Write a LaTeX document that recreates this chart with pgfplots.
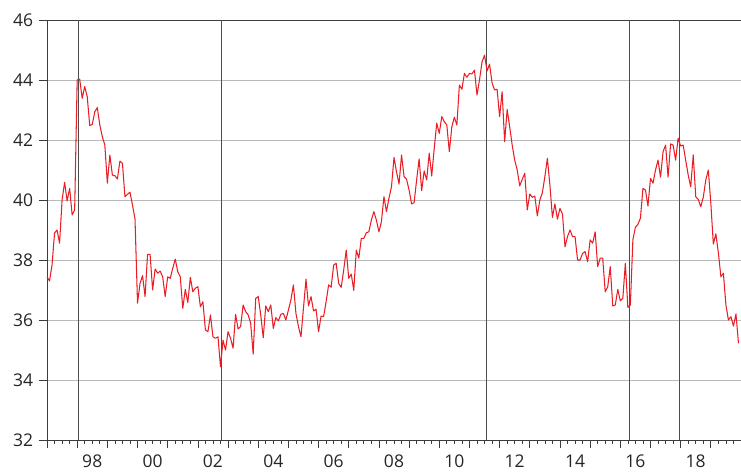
\documentclass[border=0pt]{standalone}
\usepackage{pgfplots}
\pgfplotsset{compat=1.18}
\usepackage{fontspec}
\setmainfont{Open Sans}
\definecolor{seriesred}{RGB}{235,28,36}
\definecolor{gridgray}{RGB}{185,185,185}
\definecolor{axisgray}{RGB}{60,60,60}
\begin{document}
\begin{tikzpicture}
\begin{axis}[
  name=ax,
  scale only axis,
  width=694bp, height=420bp,
  xmin=0, xmax=276,
  ymin=32, ymax=46,
  ytick={32,34,...,46},
  xtick={0,12,...,276},
  xticklabels={,98,,00,,02,,04,,06,,08,,10,,12,,14,,16,,18,,},
  minor xtick={0,3,...,276},
  tick align=outside,
  xtick pos=bottom, ytick pos=left,
  major tick length=8.3bp,
  minor tick length=4bp,
  tick style={axisgray, line width=0.7bp},
  ymajorgrids,
  grid style={gridgray, line width=0.9bp},
  axis line style={axisgray, line width=0.8bp},
  /pgf/number format/assume math mode=true,
  ticklabel style={font=\fontsize{17.5bp}{20bp}\selectfont, text=black!85},
  xticklabel style={xshift=15.08bp, yshift=-3bp},
  yticklabel style={xshift=-2bp},
  clip=false,
]
\addplot[black!70, line width=0.8bp] coordinates {(12.4,32) (12.4,46)};
\addplot[black!70, line width=0.8bp] coordinates {(69.2,32) (69.2,46)};
\addplot[black!70, line width=0.8bp] coordinates {(174.6,32) (174.6,46)};
\addplot[black!70, line width=0.8bp] coordinates {(231.6,32) (231.6,46)};
\addplot[black!70, line width=0.8bp] coordinates {(251.6,32) (251.6,46)};
\addplot[seriesred, line width=1.05bp, line join=round] table[row sep=\\] {
x y\\
0 37.44\\ 1 37.30\\ 2 37.83\\ 3 38.90\\ 4 39.00\\ 5 38.56\\ 6 40.00\\ 7 40.59\\ 8 39.97\\ 9 40.39\\ 10 39.50\\ 11 39.67\\
12 44.00\\ 13 44.03\\ 14 43.39\\ 15 43.78\\ 16 43.44\\ 17 42.48\\ 18 42.52\\ 19 42.94\\ 20 43.08\\ 21 42.50\\ 22 42.11\\ 23 41.83\\
24 40.56\\ 25 41.50\\ 26 40.83\\ 27 40.81\\ 28 40.70\\ 29 41.30\\ 30 41.22\\ 31 40.11\\ 32 40.19\\ 33 40.26\\ 34 39.83\\ 35 39.37\\
36 36.56\\ 37 37.22\\ 38 37.48\\ 39 36.78\\ 40 38.19\\ 41 38.19\\ 42 37.00\\ 43 37.70\\ 44 37.56\\ 45 37.63\\ 46 37.44\\ 47 36.78\\
48 37.44\\ 49 37.39\\ 50 37.72\\ 51 38.03\\ 52 37.61\\ 53 37.44\\ 54 36.39\\ 55 37.02\\ 56 36.58\\ 57 37.42\\ 58 36.94\\ 59 37.06\\
60 37.11\\ 61 36.44\\ 62 36.61\\ 63 35.67\\ 64 35.61\\ 65 36.17\\ 66 35.44\\ 67 35.39\\ 68 35.44\\ 69 34.44\\ 70 35.33\\ 71 35.00\\
72 35.61\\ 73 35.39\\ 74 35.06\\ 75 36.19\\ 76 35.70\\ 77 35.78\\ 78 36.50\\ 79 36.28\\ 80 36.17\\ 81 35.89\\ 82 34.86\\ 83 36.72\\
84 36.78\\ 85 36.17\\ 86 35.41\\ 87 36.47\\ 88 36.28\\ 89 36.50\\ 90 35.72\\ 91 36.08\\ 92 35.97\\ 93 36.19\\ 94 36.22\\ 95 36.00\\
96 36.33\\ 97 36.67\\ 98 37.17\\ 99 36.22\\ 100 35.78\\ 101 35.44\\ 102 36.40\\ 103 37.36\\ 104 36.47\\ 105 36.78\\ 106 36.30\\ 107 36.36\\
108 35.61\\ 109 36.13\\ 110 36.11\\ 111 36.61\\ 112 37.17\\ 113 37.09\\ 114 37.83\\ 115 37.89\\ 116 37.22\\ 117 37.09\\ 118 37.67\\ 119 38.33\\
120 37.39\\ 121 37.53\\ 122 36.99\\ 123 38.33\\ 124 38.06\\ 125 38.72\\ 126 38.72\\ 127 38.91\\ 128 38.94\\ 129 39.33\\ 130 39.61\\ 131 39.33\\
132 38.94\\ 133 39.28\\ 134 40.11\\ 135 39.61\\ 136 40.06\\ 137 40.44\\ 138 41.42\\ 139 40.94\\ 140 40.53\\ 141 41.50\\ 142 40.78\\ 143 40.69\\
144 40.33\\ 145 39.87\\ 146 39.91\\ 147 40.67\\ 148 41.37\\ 149 40.31\\ 150 40.97\\ 151 40.67\\ 152 41.56\\ 153 40.80\\ 154 41.72\\ 155 42.56\\
156 42.22\\ 157 42.78\\ 158 42.61\\ 159 42.50\\ 160 41.61\\ 161 42.44\\ 162 42.76\\ 163 42.50\\ 164 43.83\\ 165 43.69\\ 166 44.22\\ 167 44.09\\
168 44.22\\ 169 44.20\\ 170 44.33\\ 171 43.50\\ 172 44.00\\ 173 44.60\\ 174 44.83\\ 175 44.30\\ 176 44.53\\ 177 43.90\\ 178 43.67\\ 179 43.69\\
180 42.78\\ 181 43.61\\ 182 41.94\\ 183 43.02\\ 184 42.44\\ 185 41.83\\ 186 41.33\\ 187 41.00\\ 188 40.47\\ 189 40.69\\ 190 40.89\\ 191 39.67\\
192 40.20\\ 193 40.09\\ 194 40.13\\ 195 39.47\\ 196 40.00\\ 197 40.24\\ 198 40.78\\ 199 41.39\\ 200 40.50\\ 201 39.42\\ 202 39.87\\ 203 39.36\\
204 39.72\\ 205 39.53\\ 206 38.44\\ 207 38.78\\ 208 39.00\\ 209 38.78\\ 210 38.78\\ 211 38.00\\ 212 38.00\\ 213 38.22\\ 214 38.28\\ 215 37.94\\
216 38.67\\ 217 38.56\\ 218 38.94\\ 219 37.78\\ 220 38.06\\ 221 38.06\\ 222 36.94\\ 223 37.11\\ 224 37.78\\ 225 36.47\\ 226 36.50\\ 227 37.02\\
228 36.64\\ 229 36.72\\ 230 37.89\\ 231 36.42\\ 232 36.50\\ 233 38.67\\ 234 39.09\\ 235 39.19\\ 236 39.39\\ 237 40.39\\ 238 40.33\\ 239 39.80\\
240 40.72\\ 241 40.56\\ 242 41.00\\ 243 41.33\\ 244 40.76\\ 245 41.61\\ 246 41.83\\ 247 40.76\\ 248 41.87\\ 249 41.83\\ 250 41.33\\ 251 42.06\\
252 41.80\\ 253 41.83\\ 254 41.33\\ 255 40.83\\ 256 40.44\\ 257 41.50\\ 258 40.11\\ 259 40.02\\ 260 39.78\\ 261 40.09\\ 262 40.67\\ 263 41.00\\
264 39.89\\ 265 38.53\\ 266 38.87\\ 267 38.24\\ 268 37.44\\ 269 37.56\\ 270 36.50\\ 271 36.00\\ 272 36.11\\ 273 35.80\\ 274 36.20\\ 275 35.22\\
};
\end{axis}
\pgfresetboundingbox
\path ([shift={(-47bp,-32bp)}]ax.south west) rectangle ([shift={(0bp,20bp)}]ax.north east);
\end{tikzpicture}
\end{document}
